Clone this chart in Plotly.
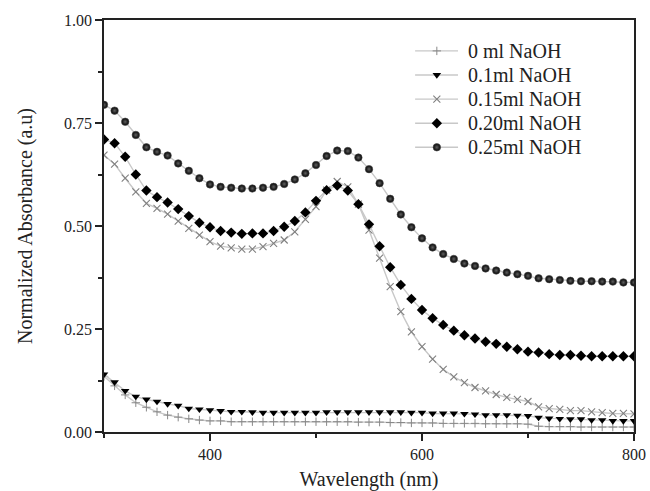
import plotly.graph_objects as go

wavelength = list(range(300, 801, 10))

naoh_0 = [0.135, 0.112, 0.090, 0.071, 0.060, 0.049, 0.041, 0.036, 0.032, 0.029,
          0.027, 0.027, 0.025, 0.025, 0.025, 0.025, 0.025, 0.025, 0.025, 0.025,
          0.025, 0.025, 0.025, 0.025, 0.024, 0.024, 0.024, 0.023, 0.023, 0.022,
          0.022, 0.022, 0.021, 0.021, 0.021, 0.021, 0.020, 0.020, 0.020, 0.020,
          0.019, 0.014, 0.013, 0.013, 0.013, 0.012, 0.012, 0.012, 0.012, 0.012,
          0.012]

naoh_01 = [0.140, 0.121, 0.100, 0.086, 0.079, 0.074, 0.068, 0.064, 0.057, 0.055,
           0.053, 0.051, 0.049, 0.049, 0.048, 0.047, 0.047, 0.047, 0.047, 0.047,
           0.047, 0.048, 0.048, 0.048, 0.048, 0.048, 0.048, 0.048, 0.048, 0.047,
           0.047, 0.045, 0.045, 0.045, 0.044, 0.043, 0.041, 0.041, 0.041, 0.040,
           0.039, 0.035, 0.033, 0.032, 0.031, 0.031, 0.029, 0.029, 0.027, 0.027,
           0.027]

naoh_015 = [0.672, 0.650, 0.616, 0.583, 0.555, 0.543, 0.529, 0.512, 0.494, 0.478,
            0.462, 0.451, 0.447, 0.444, 0.444, 0.450, 0.458, 0.466, 0.486, 0.516,
            0.547, 0.587, 0.608, 0.595, 0.553, 0.490, 0.422, 0.353, 0.292, 0.243,
            0.207, 0.177, 0.152, 0.134, 0.120, 0.108, 0.100, 0.091, 0.084, 0.079,
            0.074, 0.061, 0.057, 0.055, 0.052, 0.052, 0.049, 0.047, 0.045, 0.045,
            0.044]

naoh_020 = [0.710, 0.701, 0.668, 0.625, 0.586, 0.570, 0.557, 0.541, 0.524, 0.508,
            0.497, 0.488, 0.484, 0.481, 0.482, 0.482, 0.488, 0.498, 0.512, 0.533,
            0.561, 0.587, 0.598, 0.586, 0.553, 0.504, 0.451, 0.400, 0.357, 0.323,
            0.296, 0.276, 0.260, 0.246, 0.235, 0.227, 0.219, 0.214, 0.207, 0.201,
            0.195, 0.193, 0.189, 0.187, 0.187, 0.185, 0.184, 0.184, 0.184, 0.184,
            0.184]

naoh_025 = [0.794, 0.780, 0.753, 0.721, 0.691, 0.680, 0.671, 0.652, 0.634, 0.616,
            0.601, 0.595, 0.593, 0.591, 0.591, 0.593, 0.595, 0.602, 0.613, 0.628,
            0.648, 0.670, 0.683, 0.682, 0.666, 0.638, 0.604, 0.566, 0.528, 0.497,
            0.470, 0.448, 0.432, 0.420, 0.409, 0.403, 0.397, 0.392, 0.387, 0.383,
            0.379, 0.373, 0.371, 0.369, 0.367, 0.366, 0.366, 0.365, 0.365, 0.363,
            0.363]

series_names = ["0 ml NaOH", "0.1ml NaOH", "0.15ml NaOH", "0.20ml NaOH", "0.25ml NaOH"]
series_values = [naoh_0, naoh_01, naoh_015, naoh_020, naoh_025]

styles = [
    dict(symbol="cross-thin", size=6, color="#888888", line=dict(width=1, color="#888888")),
    dict(symbol="triangle-down", size=7.5, color="#000000", line=dict(width=0)),
    dict(symbol="x-thin", size=7, color="#808080", line=dict(width=1.1, color="#808080")),
    dict(symbol="diamond", size=8, color="#000000", line=dict(width=0)),
    dict(symbol="circle", size=7.5, color="#000000", line=dict(width=0.6, color="#505050"),
         gradient=dict(type="radial", color="#606060")),
]

FONT = "Liberation Serif, Times New Roman, serif"
LINE_GRAY = "#c8c8c8"

fig = go.Figure()
for name, vals, st in zip(series_names, series_values, styles):
    fig.add_trace(go.Scatter(
        x=wavelength, y=vals, name=name, mode="lines+markers",
        line=dict(color=LINE_GRAY, width=1.4),
        marker=st, showlegend=False,
    ))

# manual legend (compact rows like the original), drawn on an overlay axis in plot fractions
leg_x0, leg_xm, leg_x1, leg_tx = 0.587, 0.628, 0.668, 0.683
leg_top, leg_step = 0.925, 0.0585
annotations = []
for i, (name, st) in enumerate(zip(series_names, styles)):
    yy = leg_top - i * leg_step
    fig.add_trace(go.Scatter(
        x=[leg_x0, leg_x1], y=[yy, yy], xaxis="x2", yaxis="y2", mode="lines",
        line=dict(color=LINE_GRAY, width=1.4), showlegend=False, hoverinfo="skip"))
    fig.add_trace(go.Scatter(
        x=[leg_xm], y=[yy], xaxis="x2", yaxis="y2", mode="markers",
        marker=st, showlegend=False, hoverinfo="skip"))
    annotations.append(dict(x=leg_tx, y=yy, xref="paper", yref="paper", text=name,
                            showarrow=False, xanchor="left", yanchor="middle",
                            font=dict(family=FONT, size=20, color="#222222")))

fig.update_layout(
    width=650, height=491,
    paper_bgcolor="white", plot_bgcolor="white",
    margin=dict(l=104, r=16, t=20, b=59, autoexpand=False),
    font=dict(family=FONT, size=16, color="#222222"),
    showlegend=False,
    annotations=annotations,
    xaxis=dict(
        range=[300, 800], tick0=0, dtick=200, showgrid=False, zeroline=False, automargin=False,
        showline=True, linecolor="#222222", linewidth=1.7, mirror=True,
        ticks="outside", ticklen=7, tickwidth=1.5, tickcolor="#222222",
        minor=dict(dtick=100, tick0=0, ticks="outside", ticklen=4, tickwidth=1.5, tickcolor="#222222"),
        tickfont=dict(family=FONT, size=16),
        title=dict(text="Wavelength (nm)", font=dict(family=FONT, size=20), standoff=18),
    ),
    yaxis=dict(
        range=[0, 1.0], tick0=0, dtick=0.25, tickformat=".2f", showgrid=False, zeroline=False, automargin=False,
        showline=True, linecolor="#222222", linewidth=1.7, mirror=True,
        ticks="outside", ticklen=7, tickwidth=1.5, tickcolor="#222222",
        minor=dict(dtick=0.125, tick0=0, ticks="outside", ticklen=4, tickwidth=1.5, tickcolor="#222222"),
        tickfont=dict(family=FONT, size=16),
        title=dict(text="Normalized Absorbance (a.u)", font=dict(family=FONT, size=20), standoff=26),
    ),
    xaxis2=dict(overlaying="x", range=[0, 1], visible=False, fixedrange=True),
    yaxis2=dict(overlaying="y", range=[0, 1], visible=False, fixedrange=True),
)

fig.write_html("out.html", config={"displayModeBar": False},
               post_script="document.body.style.margin='0';document.body.style.overflow='hidden';")
